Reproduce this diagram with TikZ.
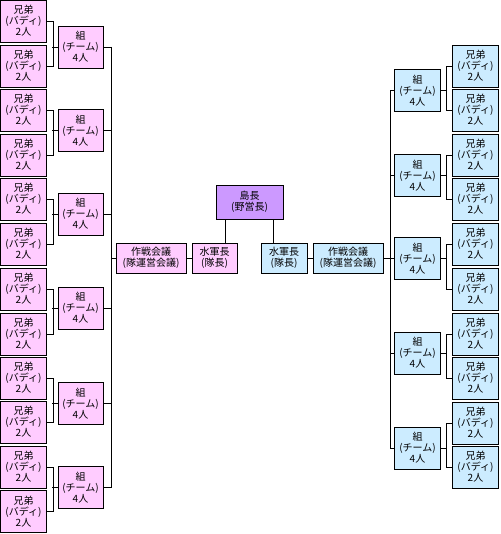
\documentclass[tikz,border=0pt]{standalone}
\usepackage{fontspec}
\setmainfont{Noto Sans CJK JP}
\definecolor{budpink}{HTML}{FFCCFF}
\definecolor{budblue}{HTML}{CCECFF}
\definecolor{chiefpurple}{HTML}{CC99FF}
\newcommand{\budtext}{兄弟\\(バディ)\\2人}
\newcommand{\kumitext}{組\\(チーム)\\4人}

\begin{document}
\begin{tikzpicture}[x=1pt, y=-1pt, line width=0.9pt,
    box/.style={draw, align=center, inner sep=0pt, font=\fontsize{10}{11}\selectfont},
    budL/.style={box, fill=budpink, minimum width=46pt, minimum height=42pt},
    budR/.style={box, fill=budblue, minimum width=46pt, minimum height=42pt},
    kumiL/.style={box, fill=budpink, minimum width=45pt, minimum height=42pt},
    kumiR/.style={box, fill=budblue, minimum width=46pt, minimum height=42pt},
    headL/.style={box, fill=budpink, minimum height=30pt},
    headR/.style={box, fill=budblue, minimum height=30pt}]
    \useasboundingbox (0, 0) rectangle (500, 534);
    % left side
    \node[budL] (budL1) at (23.5, 21) {\budtext};
    \node[budL] (budL2) at (23.5, 66) {\budtext};
    \node[budL] (budL3) at (23.5, 110) {\budtext};
    \node[budL] (budL4) at (23.5, 155) {\budtext};
    \node[budL] (budL5) at (23.5, 199) {\budtext};
    \node[budL] (budL6) at (23.5, 244) {\budtext};
    \node[budL] (budL7) at (23.5, 289) {\budtext};
    \node[budL] (budL8) at (23.5, 334) {\budtext};
    \node[budL] (budL9) at (23.5, 378) {\budtext};
    \node[budL] (budL10) at (23.5, 422) {\budtext};
    \node[budL] (budL11) at (23.5, 467) {\budtext};
    \node[budL] (budL12) at (23.5, 511.5) {\budtext};
    \node[kumiL] (kumiL1) at (80.5, 47) {\kumitext};
    \node[kumiL] (kumiL2) at (80.5, 130.5) {\kumitext};
    \node[kumiL] (kumiL3) at (80.5, 214) {\kumitext};
    \node[kumiL] (kumiL4) at (80.5, 308) {\kumitext};
    \node[kumiL] (kumiL5) at (80.5, 403.5) {\kumitext};
    \node[kumiL] (kumiL6) at (80.5, 487.5) {\kumitext};
    \coordinate (busL) at (111, 0);
    % centre
    \node[box, fill=chiefpurple, minimum width=67pt, minimum height=34pt] (chief) at (249.5, 202) {島長\\(野営長)};
    \node[headL, minimum width=70pt] (councilL) at (151, 258) {作戦会議\\(隊運営会議)};
    \node[headL, minimum width=45pt] (capL) at (214.5, 258) {水軍長\\(隊長)};
    \node[headR, minimum width=46pt] (capR) at (284, 258) {水軍長\\(隊長)};
    \node[headR, minimum width=70pt] (councilR) at (348, 258) {作戦会議\\(隊運営会議)};
    % right side
    \node[budR] (budR1) at (475.5, 66) {\budtext};
    \node[budR] (budR2) at (475.5, 110) {\budtext};
    \node[budR] (budR3) at (475.5, 155) {\budtext};
    \node[budR] (budR4) at (475.5, 199) {\budtext};
    \node[budR] (budR5) at (475.5, 244) {\budtext};
    \node[budR] (budR6) at (475.5, 289) {\budtext};
    \node[budR] (budR7) at (475.5, 334) {\budtext};
    \node[budR] (budR8) at (475.5, 378) {\budtext};
    \node[budR] (budR9) at (475.5, 423) {\budtext};
    \node[budR] (budR10) at (475.5, 467) {\budtext};
    \node[kumiR] (kumiR1) at (417.5, 90.5) {\kumitext};
    \node[kumiR] (kumiR2) at (417.5, 175.5) {\kumitext};
    \node[kumiR] (kumiR3) at (417.5, 258.5) {\kumitext};
    \node[kumiR] (kumiR4) at (417.5, 353) {\kumitext};
    \node[kumiR] (kumiR5) at (417.5, 448) {\kumitext};
    \coordinate (busR) at (390, 0);
    % centre lines
    \draw ([xshift=11pt]capL.north) -- ([xshift=11pt]capL.north |- chief.south);
    \draw ([xshift=-11pt]capR.north) -- ([xshift=-11pt]capR.north |- chief.south);
    \draw (councilL) -- (capL);
    \draw (capR) -- (councilR);
    \draw (councilL.west) -- (councilL.west -| busL);
    \draw (councilR.east) -- (councilR.east -| busR);
    % left lines
    \draw (kumiL1.east -| busL) -- (kumiL6.east -| busL);
    \draw (kumiL1.east) -- (kumiL1.east -| busL);
    \draw (kumiL2.east) -- (kumiL2.east -| busL);
    \draw (kumiL3.east) -- (kumiL3.east -| busL);
    \draw (kumiL4.east) -- (kumiL4.east -| busL);
    \draw (kumiL5.east) -- (kumiL5.east -| busL);
    \draw (kumiL6.east) -- (kumiL6.east -| busL);
    \draw (budL1.east) -- ++(6, 0) |- (budL2.east);
    \draw (budL3.east) -- ++(6, 0) |- (budL4.east);
    \draw (budL5.east) -- ++(6, 0) |- (budL6.east);
    \draw (budL7.east) -- ++(6, 0) |- (budL8.east);
    \draw (budL9.east) -- ++(6, 0) |- (budL10.east);
    \draw (budL11.east) -- ++(6, 0) |- (budL12.east);
    \draw (kumiL1.west) -- ++(-6, 0);
    \draw (kumiL2.west) -- ++(-6, 0);
    \draw (kumiL3.west) -- ++(-6, 0);
    \draw (kumiL4.west) -- ++(-6, 0);
    \draw (kumiL5.west) -- ++(-6, 0);
    \draw (kumiL6.west) -- ++(-6, 0);
    % right lines
    \draw (kumiR1.west -| busR) -- (kumiR5.west -| busR);
    \draw (kumiR1.west) -- (kumiR1.west -| busR);
    \draw (kumiR2.west) -- (kumiR2.west -| busR);
    \draw (kumiR3.west) -- (kumiR3.west -| busR);
    \draw (kumiR4.west) -- (kumiR4.west -| busR);
    \draw (kumiR5.west) -- (kumiR5.west -| busR);
    \draw (budR1.west) -- ++(-5.5, 0) |- (budR2.west);
    \draw (budR3.west) -- ++(-5.5, 0) |- (budR4.west);
    \draw (budR5.west) -- ++(-5.5, 0) |- (budR6.west);
    \draw (budR7.west) -- ++(-5.5, 0) |- (budR8.west);
    \draw (budR9.west) -- ++(-5.5, 0) |- (budR10.west);
    \draw (kumiR1.east) -- ++(6.5, 0);
    \draw (kumiR2.east) -- ++(6.5, 0);
    \draw (kumiR3.east) -- ++(6.5, 0);
    \draw (kumiR4.east) -- ++(6.5, 0);
    \draw (kumiR5.east) -- ++(6.5, 0);
\end{tikzpicture}
\end{document}
